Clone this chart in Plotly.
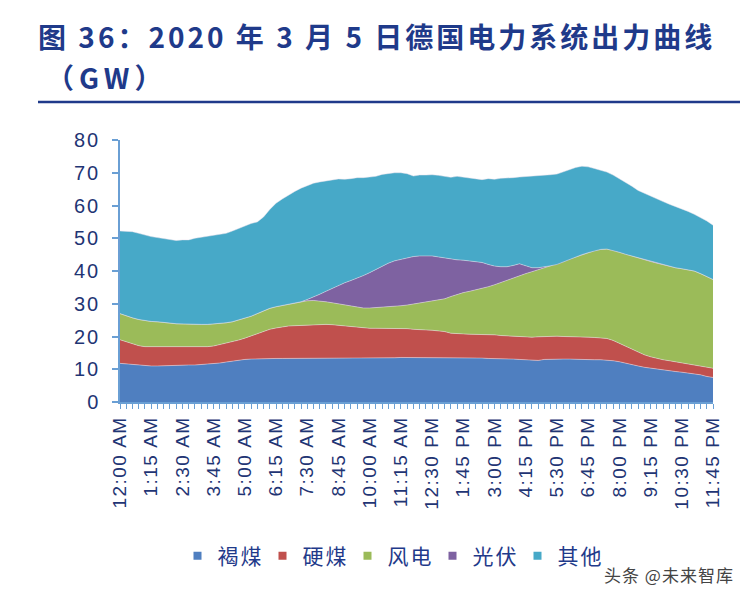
import plotly.graph_objects as go

# 15-minute intervals, 96 points
time_labels = ["12:00 AM", "1:15 AM", "2:30 AM", "3:45 AM", "5:00 AM", "6:15 AM", "7:30 AM",
               "8:45 AM", "10:00 AM", "11:15 AM", "12:30 PM", "1:45 PM", "3:00 PM", "4:15 PM",
               "5:30 PM", "6:45 PM", "8:00 PM", "9:15 PM", "10:30 PM", "11:45 PM"]
tick_index = [0, 5, 10, 15, 20, 25, 30, 35, 40, 45, 50, 55, 60, 65, 70, 75, 80, 85, 90, 95]
x_index = list(range(96))

series_names = ["褐煤", "硬煤", "风电", "光伏", "其他"]

lignite = [11.8, 11.6, 11.4, 11.3, 11.1, 11.0, 11.0, 11.1, 11.2, 11.2,
           11.3, 11.3, 11.3, 11.4, 11.5, 11.6, 11.9, 12.2, 12.5, 12.8,
           13.0, 13.1, 13.2, 13.3, 13.3, 13.3, 13.3, 13.3, 13.3, 13.3,
           13.3, 13.3, 13.3, 13.3, 13.3, 13.3, 13.3, 13.4, 13.4, 13.4,
           13.4, 13.5, 13.5, 13.5, 13.5, 13.6, 13.6, 13.6, 13.6, 13.6,
           13.6, 13.6, 13.5, 13.5, 13.5, 13.5, 13.4, 13.4, 13.4, 13.3,
           13.3, 13.2, 13.2, 13.1, 13.0, 12.9, 12.8, 12.7, 13.0, 13.1,
           13.1, 13.1, 13.1, 13.0, 13.0, 13.0, 12.9, 12.9, 12.8, 12.6,
           12.3, 11.8, 11.4, 11.0, 10.6, 10.3, 10.0, 9.8, 9.5, 9.3,
           9.1, 8.9, 8.7, 8.3, 7.8, 7.5]

hard_coal = [7.2, 6.8, 6.4, 5.9, 5.8, 5.9, 5.9, 5.7, 5.5, 5.5,
             5.4, 5.4, 5.5, 5.4, 5.4, 5.5, 5.6, 5.7, 5.9, 6.1,
             6.5, 7.1, 7.7, 8.3, 8.9, 9.3, 9.7, 9.9, 10.0, 10.1,
             10.2, 10.3, 10.4, 10.4, 10.3, 10.1, 10.0, 9.6, 9.4, 9.2,
             9.1, 9.0, 9.0, 9.0, 8.9, 8.8, 8.8, 8.6, 8.4, 8.4,
             8.3, 8.2, 8.0, 7.5, 7.3, 7.3, 7.3, 7.3, 7.2, 7.2,
             7.2, 7.1, 7.0, 6.9, 7.1, 7.0, 7.0, 7.2, 7.0, 6.9,
             7.0, 6.9, 6.9, 7.0, 6.9, 6.8, 6.8, 6.7, 6.6, 6.2,
             5.6, 5.2, 4.8, 4.2, 3.8, 3.5, 3.3, 3.1, 3.1, 3.0,
             2.9, 2.7, 2.6, 2.7, 2.8, 2.8]

wind = [8.0, 7.9, 7.9, 8.0, 7.9, 7.7, 7.6, 7.6, 7.4, 7.2,
        7.1, 7.1, 6.9, 6.9, 6.8, 6.7, 6.5, 6.3, 6.1, 6.1,
        6.1, 6.0, 6.1, 6.2, 6.4, 6.5, 6.5, 6.7, 6.9, 7.2,
        7.4, 7.4, 7.2, 6.9, 6.7, 6.6, 6.3, 6.2, 6.1, 6.1,
        6.2, 6.3, 6.4, 6.5, 6.8, 7.0, 7.2, 7.7, 8.1, 8.4,
        8.9, 9.2, 10.0, 11.2, 12.1, 12.6, 13.1, 13.5, 14.2, 14.7,
        15.3, 16.2, 17.1, 18.0, 18.5, 19.3, 20.0, 20.5, 20.9, 21.5,
        21.9, 22.8, 23.6, 24.3, 25.1, 25.8, 26.5, 27.0, 27.3, 27.5,
        27.8, 28.1, 28.4, 28.8, 29.0, 29.1, 29.1, 29.0, 28.8, 28.7,
        28.7, 28.8, 28.7, 28.2, 27.7, 27.1]

solar = [0, 0, 0, 0, 0, 0, 0, 0, 0, 0,
         0, 0, 0, 0, 0, 0, 0, 0, 0, 0,
         0, 0, 0, 0, 0, 0, 0, 0, 0, 0,
         0.4, 1.0, 2.0, 3.2, 4.4, 5.6, 6.8, 7.9, 8.9, 9.9,
         10.8, 11.7, 12.6, 13.4, 13.9, 14.2, 14.5, 14.5, 14.5, 14.3,
         13.8, 13.3, 12.5, 11.4, 10.5, 9.9, 9.3, 8.7, 7.8, 6.8,
         5.7, 4.8, 4.0, 3.7, 3.6, 2.4, 1.2, 0.6, 0.3, 0.1,
         0, 0, 0, 0, 0, 0, 0, 0, 0, 0,
         0, 0, 0, 0, 0, 0, 0, 0, 0, 0,
         0, 0, 0, 0, 0, 0]

other = [25.2, 25.9, 26.3, 26.3, 26.1, 25.9, 25.7, 25.5, 25.3, 25.4,
         25.7, 25.7, 26.3, 26.6, 26.9, 26.9, 27.0, 27.3, 27.7, 28.0,
         28.2, 28.3, 28.0, 28.7, 30.2, 31.6, 32.5, 33.3, 34.1, 34.7,
         34.8, 34.8, 34.3, 33.6, 33.1, 32.5, 31.6, 31.1, 30.7, 29.9,
         29.1, 28.4, 28.0, 27.4, 26.9, 26.4, 25.6, 24.6, 24.7, 24.6,
         24.8, 24.9, 24.9, 25.0, 25.5, 25.4, 25.2, 25.2, 25.3, 26.2,
         26.5, 27.0, 27.0, 26.8, 26.5, 27.2, 27.9, 28.1, 28.0, 27.8,
         27.6, 27.5, 27.4, 27.3, 27.0, 26.2, 25.1, 24.2, 23.5, 23.0,
         22.5, 21.9, 21.3, 20.6, 20.3, 19.9, 19.5, 19.3, 19.0, 18.7,
         18.2, 17.8, 17.3, 17.1, 17.0, 16.6]

colors = ["#4F7FC0", "#C0504D", "#9BBB59", "#7E62A1", "#47A9C8"]
values = [lignite, hard_coal, wind, solar, other]

NAVY = "#1F3A8A"
AXIS = "#6A9FD4"
TICKTXT = "#1F3574"


def spaced(text, px):
    return '<span style="letter-spacing:%spx">%s</span>' % (px, text)


fig = go.Figure()
for name, vals, col in zip(series_names, values, colors):
    fig.add_trace(go.Scatter(
        x=x_index, y=vals, name=name, mode="lines", stackgroup="one",
        line=dict(width=0.6, color="rgba(235,225,235,0.8)"),
        fillcolor=col, showlegend=False, hoverinfo="skip"))
# legend entries as square markers
for name, col in zip(series_names, colors):
    fig.add_trace(go.Scatter(
        x=[None], y=[None], name=spaced(name, 2), mode="markers",
        marker=dict(symbol="square", size=8, color=col)))

L, R, T, B = 120, 37, 140, 197
pw = 750 - L - R
ph = 599 - T - B


def px_x(x):
    return (x - L) / pw


def px_y(y):
    return (599 - B - y) / ph


fig.update_layout(
    width=750, height=599,
    margin=dict(l=L, r=R, t=T, b=B),
    paper_bgcolor="white", plot_bgcolor="white",
    font=dict(family="Liberation Sans, Arial, sans-serif", color=TICKTXT),
    showlegend=True,
    legend=dict(orientation="h", x=px_x(390), xanchor="center", y=px_y(556), yanchor="middle",
                font=dict(family="Noto Sans CJK SC", size=21, color=NAVY),
                itemsizing="trace", traceorder="normal",
                entrywidth=40, entrywidthmode="pixels"),
    xaxis=dict(range=[0, 95], tickmode="array", tickvals=tick_index,
               ticktext=[spaced(t, 1.5) for t in time_labels],
               tickangle=-90, tickfont=dict(size=19, color=TICKTXT),
               showline=True, linecolor=AXIS, linewidth=1.5,
               ticks="outside", ticklen=5, tickcolor=AXIS, tickwidth=1,
               minor=dict(dtick=1, ticks="outside", ticklen=5, tickcolor=AXIS, tickwidth=1),
               showgrid=False, zeroline=False),
    yaxis=dict(range=[0, 80], tickmode="array", tickvals=[0, 10, 20, 30, 40, 50, 60, 70, 80],
               ticktext=[spaced(str(v), 2) for v in [0, 10, 20, 30, 40, 50, 60, 70, 80]],
               tickfont=dict(size=20, color=TICKTXT),
               showline=True, linecolor=AXIS, linewidth=1.5,
               ticks="outside", ticklen=6, tickcolor=AXIS, tickwidth=1.5,
               ticklabelstandoff=8,
               showgrid=False, zeroline=False),
)

fig.add_annotation(text="<b>" + spaced("图 36：2020 年 3 月 5 日德国电力系统出力曲线", 3) + "</b>",
                   xref="paper", yref="paper", x=px_x(36), y=px_y(36),
                   xanchor="left", yanchor="middle", showarrow=False,
                   font=dict(family="Noto Sans CJK SC", size=28, color=NAVY))
fig.add_annotation(text="<b>" + spaced("（GW）", 5) + "</b>",
                   xref="paper", yref="paper", x=px_x(44), y=px_y(77),
                   xanchor="left", yanchor="middle", showarrow=False,
                   font=dict(family="Noto Sans CJK SC", size=28, color=NAVY))
fig.add_shape(type="line", xref="paper", yref="paper",
              x0=px_x(38), x1=px_x(740), y0=px_y(102), y1=px_y(102),
              line=dict(color=NAVY, width=2.5))
fig.add_annotation(text=spaced("头条 @未来智库", 1), xref="paper", yref="paper",
                   x=px_x(736), y=px_y(574), xanchor="right", yanchor="middle",
                   showarrow=False,
                   font=dict(family="Noto Sans CJK SC", size=17, color="#444444"))

fig.write_html("out.html")
